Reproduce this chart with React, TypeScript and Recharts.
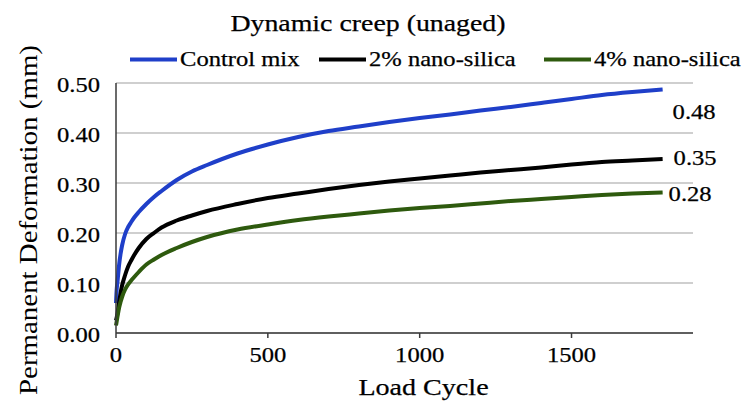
import React from 'react';
import { LineChart, Line, XAxis, YAxis, CartesianGrid, Legend, LabelList } from 'recharts';

const cycles = [0, 2, 5, 10, 15, 20, 30, 40, 50, 60, 75, 100, 125, 150, 200, 250, 300, 400, 500, 600, 700, 800, 900, 1000, 1100, 1200, 1300, 1400, 1500, 1600, 1700, 1800];
const controlMix = [0.06, 0.085, 0.103, 0.135, 0.158, 0.175, 0.198, 0.212, 0.222, 0.231, 0.242, 0.258, 0.272, 0.284, 0.306, 0.323, 0.336, 0.359, 0.377, 0.392, 0.404, 0.413, 0.422, 0.43, 0.437, 0.445, 0.452, 0.46, 0.468, 0.476, 0.482, 0.487];
const nanoSilica2 = [0.025, 0.03, 0.04, 0.06, 0.08, 0.095, 0.116, 0.133, 0.145, 0.156, 0.17, 0.188, 0.2, 0.211, 0.225, 0.235, 0.244, 0.258, 0.27, 0.279, 0.288, 0.296, 0.303, 0.309, 0.315, 0.321, 0.326, 0.331, 0.337, 0.342, 0.345, 0.348];
const nanoSilica4 = [0.015, 0.022, 0.033, 0.05, 0.062, 0.072, 0.087, 0.097, 0.105, 0.112, 0.122, 0.137, 0.147, 0.156, 0.17, 0.182, 0.192, 0.207, 0.217, 0.226, 0.233, 0.239, 0.245, 0.25, 0.254, 0.259, 0.264, 0.268, 0.272, 0.276, 0.279, 0.281];

const seriesKeys = ['control', 'nano2', 'nano4'];
const seriesNames = ['Control mix', '2% nano-silica', '4% nano-silica'];
const seriesColors = ['#1f3fc9', '#000000', '#2e5a0e'];
const endLabels = ['0.48', '0.35', '0.28'];
const xTicks = [0, 500, 1000, 1500];
const yTicks = [0, 0.1, 0.2, 0.3, 0.4, 0.5];
const chartTitle = 'Dynamic creep (unaged)';
const xTitle = 'Load Cycle';
const yTitle = 'Permanent  Deformation (mm)';

const data = cycles.map((c, i) => ({
  cycle: c,
  control: controlMix[i],
  nano2: nanoSilica2[i],
  nano4: nanoSilica4[i],
}));

const FONT = 'Liberation Serif';
const SX = 1.17;

let measureCtx: CanvasRenderingContext2D | null = null;
const measure = (txt: string, size: number) => {
  if (typeof document === 'undefined') return txt.length * size * 0.5;
  if (!measureCtx) measureCtx = document.createElement('canvas').getContext('2d');
  if (!measureCtx) return txt.length * size * 0.5;
  measureCtx.font = `${size}px "${FONT}"`;
  return measureCtx.measureText(txt).width;
};

const SText = ({ x, y, size, anchor, text, sx = SX }: any) => (
  <text
    x={x}
    y={y}
    fontSize={size}
    fontFamily={FONT}
    textAnchor={anchor}
    fill="#000"
    stroke="#000"
    strokeWidth={0.25}
    textLength={measure(String(text), size) * sx}
    lengthAdjust="spacingAndGlyphs"
  >
    {text}
  </text>
);

const XTick = (props: any) => {
  const { x, y, payload } = props;
  return <SText x={x} y={y + 22} size={21} anchor="middle" text={String(payload.value)} />;
};

const YTick = (props: any) => {
  const { x, y, payload } = props;
  return <SText x={x - 8} y={y + 9} size={21} anchor="end" text={Number(payload.value).toFixed(2)} />;
};

const endLabelOffsets = [
  { dx: 10, dy: 29 },
  { dx: 11, dy: 6 },
  { dx: 6, dy: 8 },
];

const makeEndLabel = (si: number) => (props: any) => {
  const { x, y, index } = props;
  if (index !== data.length - 1) return null;
  const o = endLabelOffsets[si];
  return <SText x={x + o.dx} y={y + o.dy} size={21} anchor="start" text={endLabels[si]} />;
};

const renderXTitle = (props: any) => {
  const vb = props.viewBox || {};
  const cx = vb.x + vb.width / 2 + 19;
  return <SText x={cx} y={395} size={24} anchor="middle" text={xTitle} />;
};

const renderYTitle = () => (
  <text
    x={37}
    y={220}
    transform="rotate(-90, 37, 220)"
    textAnchor="middle"
    fontSize={26}
    fontFamily={FONT}
    fill="#000"
    textLength={350}
    lengthAdjust="spacingAndGlyphs"
  >
    {yTitle}
  </text>
);

const legendLeft = [130, 319, 544];

const renderLegend = () => (
  <svg width={744} height={80} style={{ position: 'absolute', left: 0, top: 0 }}>
    {seriesNames.map((name, i) => (
      <g key={name}>
        <rect x={legendLeft[i]} y={57.5} width={47} height={4} fill={seriesColors[i]} />
        <SText x={legendLeft[i] + 50} y={66} size={21} anchor="start" text={name} />
      </g>
    ))}
  </svg>
);

export default function App() {
  return (
    <div style={{ position: 'absolute', left: 0, top: 0, width: 744, height: 403, background: '#fff' }}>
      <svg width={744} height={40} style={{ position: 'absolute', left: 0, top: 0, zIndex: 2 }}>
        <SText x={368} y={30.7} size={24} anchor="middle" text={chartTitle} sx={1.16} />
      </svg>
      <LineChart width={744} height={403} data={data} margin={{ top: 83, right: 51, bottom: 0, left: 0 }}>
        <CartesianGrid horizontal={true} vertical={false} stroke="#a0a0a0" strokeWidth={1.2} />
        <XAxis
          dataKey="cycle"
          type="number"
          domain={[0, 1900]}
          ticks={xTicks}
          height={70}
          interval={0}
          stroke="#3a3a3a"
          strokeWidth={1.5}
          tickSize={5}
          tickMargin={2}
          tick={<XTick />}
          label={{ content: renderXTitle }}
        />
        <YAxis
          type="number"
          domain={[0, 0.5]}
          ticks={yTicks}
          width={116}
          interval={0}
          stroke="#3a3a3a"
          strokeWidth={1.5}
          tickLine={false}
          tickSize={6}
          tickMargin={2}
          tick={<YTick />}
          label={{ content: renderYTitle }}
        />
        <Legend
          verticalAlign="middle"
          layout="horizontal"
          content={renderLegend}
          wrapperStyle={{ position: 'absolute', left: 0, top: 0, width: 744, height: 80 }}
        />
        {seriesKeys.map((k, i) => (
          <Line
            key={k}
            type="monotone"
            dataKey={k}
            name={seriesNames[i]}
            stroke={seriesColors[i]}
            strokeWidth={4}
            dot={false}
            activeDot={false}
            isAnimationActive={false}
          >
            <LabelList dataKey={k} content={makeEndLabel(i)} />
          </Line>
        ))}
      </LineChart>
    </div>
  );
}
